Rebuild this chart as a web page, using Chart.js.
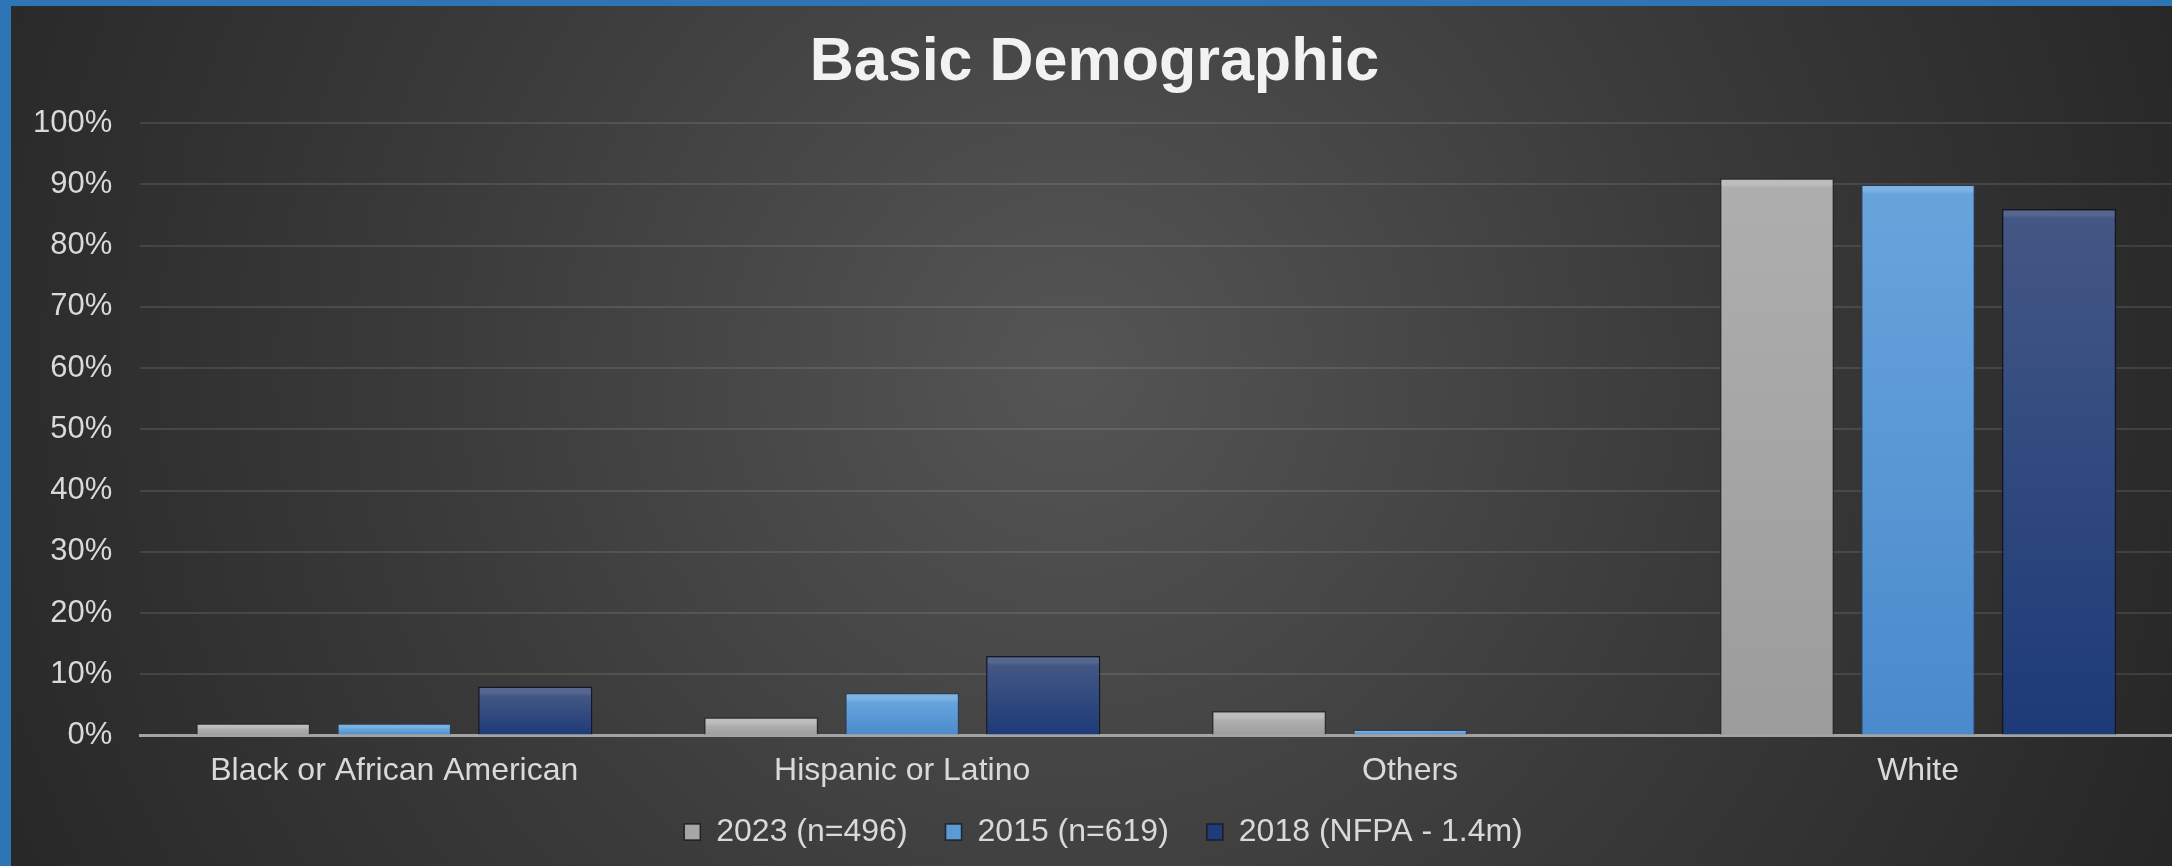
<!DOCTYPE html>
<html>
<head>
<meta charset="utf-8">
<script src="https://cdn.jsdelivr.net/npm/chart.js"></script>
<style>
  html, body { margin: 0; padding: 0; background: #2E75B6; }
  #wrap { position: absolute; left: 11px; top: 6px; width: 2161px; height: 860px; }
</style>
</head>
<body>
<div id="wrap"><canvas id="demoChart"></canvas></div>
<script>
// chart data
const categories = ['Black or African American', 'Hispanic or Latino', 'Others', 'White'];
const seriesNames = ['2023 (n=496)', '2015 (n=619)', '2018 (NFPA - 1.4m)'];
const values2023 = [2, 3, 4, 91];
const values2015 = [2, 7, 1, 90];
const valuesNfpa = [8, 13, null, 86];
const yTicks = [0, 10, 20, 30, 40, 50, 60, 70, 80, 90, 100];

const FONT = "'Liberation Sans', Arial, sans-serif";
const TEXT = '#D9D9D9';
const LABEL_SHIFT = 28;

// per-bar vertical gradient with a light bevel band at the top
function barFill(edge, top, bottom) {
    return function(ctx) {
        const chart = ctx.chart;
        if (!chart.chartArea || ctx.raw == null) return bottom;
        const y = chart.scales.y;
        const y0 = y.getPixelForValue(ctx.raw);
        const y1 = y.getPixelForValue(0);
        const h = y1 - y0;
        if (!isFinite(h) || h < 2) return bottom;
        const g = chart.ctx.createLinearGradient(0, y0, 0, y1);
        const b = Math.min(6 / h, 0.3);
        g.addColorStop(0, edge);
        g.addColorStop(b, edge);
        g.addColorStop(Math.min(b * 1.6, 0.5), top);
        g.addColorStop(1, bottom);
        return g;
    };
}

const solid = ['#A6A6A6', '#5B9BD5', '#1F3C7A'];

const bgPlugin = {
    id: 'bg',
    afterLayout(chart) {
        // x labels overlap the legend's empty top padding; keep them unclipped
        chart.scales.x.bottom += LABEL_SHIFT;
        // nudge the centred boxes to match the original
        chart.legend.left += 15; chart.legend.right += 15;
        chart.titleBlock.left += 6; chart.titleBlock.right += 6;
    },
    beforeDraw(chart) {
        const c = chart.ctx, w = chart.width, h = chart.height;
        c.save();
        const g = c.createRadialGradient(w * 0.49, h * 0.42, 0, w * 0.49, h * 0.42, w * 0.55);
        g.addColorStop(0, '#555555');
        g.addColorStop(0.55, '#3a3a3a');
        g.addColorStop(1, '#272727');
        c.fillStyle = g;
        c.fillRect(0, 0, w, h);
        c.restore();
    }
};

document.addEventListener('DOMContentLoaded', function() {
    const ctx = document.getElementById('demoChart').getContext('2d');
    new Chart(ctx, {
        type: 'bar',
        data: {
            labels: categories,
            datasets: [{
                label: seriesNames[0],
                data: values2023,
                backgroundColor: barFill('#BDBDBD', '#AEAEAE', '#9C9C9C'),
                borderColor: 'rgba(40,40,40,0.8)',
                borderWidth: 1.5
            }, {
                label: seriesNames[1],
                data: values2015,
                backgroundColor: barFill('#7DB3E3', '#68A4DC', '#4A8ACC'),
                borderColor: 'rgba(40,60,90,0.8)',
                borderWidth: 1.5
            }, {
                label: seriesNames[2],
                data: valuesNfpa,
                backgroundColor: barFill('#56678F', '#435784', '#1D3A78'),
                borderColor: 'rgba(15,20,35,0.9)',
                borderWidth: 1.5
            }]
        },
        options: {
            responsive: true,
            maintainAspectRatio: false,
            animation: false,
            categoryPercentage: 0.833,
            barPercentage: 0.81,
            layout: { padding: { left: -6, right: 0, top: 0, bottom: 8 } },
            plugins: {
                title: {
                    display: true,
                    text: 'Basic Demographic',
                    color: '#F2F2F2',
                    font: { family: FONT, size: 61, weight: 'bold' },
                    padding: { top: 21, bottom: 23 }
                },
                legend: {
                    position: 'bottom',
                    labels: {
                        color: TEXT,
                        font: { family: FONT, size: 32 },
                        boxWidth: 16,
                        boxHeight: 16,
                        padding: 38,
                        generateLabels(chart) {
                            const items = Chart.defaults.plugins.legend.labels.generateLabels(chart);
                            items.forEach((it, i) => {
                                it.fillStyle = solid[i];
                                it.strokeStyle = 'rgba(20,20,20,0.8)';
                                it.lineWidth = 1.5;
                            });
                            return items;
                        }
                    }
                },
                tooltip: { enabled: false }
            },
            scales: {
                x: {
                    grid: { display: false, drawTicks: false },
                    border: { display: true, color: '#A3A3A3', width: 3 },
                    ticks: { color: TEXT, font: { family: FONT, size: 32 }, padding: 16 },
                    afterFit(axis) { axis.height -= LABEL_SHIFT; }
                },
                y: {
                    min: 0,
                    max: 100,
                    afterBuildTicks(axis) { axis.ticks = yTicks.map(v => ({ value: v })); },
                    grid: { color: 'rgba(255,255,255,0.1)', lineWidth: 2, drawTicks: false },
                    border: { display: false },
                    ticks: { color: TEXT, font: { family: FONT, size: 31 }, padding: 28, callback: v => v + '%' }
                }
            }
        },
        plugins: [bgPlugin]
    });
});
</script>
</body>
</html>
